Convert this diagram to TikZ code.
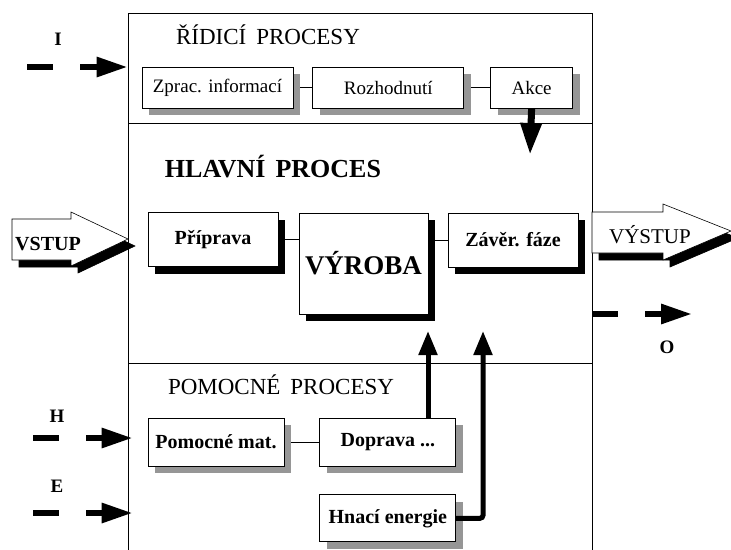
\documentclass[tikz,border=0pt]{standalone}
\usepackage{fontspec}
\setmainfont{Liberation Serif}
\usepackage{tikz}
\usetikzlibrary{positioning, arrows.meta, shadows, backgrounds}
\definecolor{shadowgray}{RGB}{150,150,150}

\tikzset{
  section/.style={draw, line width=0.8pt, minimum width=464pt, inner sep=0pt},
  title/.style={anchor=base, font=\fontsize{23}{25}\selectfont},
  lbl/.style={anchor=base, font=\bfseries\fontsize{19}{21}\selectfont},
  procbox/.style={draw, fill=white, line width=0.8pt, inner sep=0pt},
  greybox/.style={procbox, font=\fontsize{19}{21}\selectfont,
    drop shadow={shadow xshift=7pt, shadow yshift=-7pt, fill=shadowgray, opacity=1}},
  blackbox/.style={procbox, font=\bfseries\fontsize{20}{22}\selectfont,
    drop shadow={shadow xshift=7pt, shadow yshift=-7pt, fill=black, opacity=1}},
  boldtext/.style={font=\bfseries\fontsize{20}{22}\selectfont},
  link/.style={line width=0.8pt},
  inflow/.style={line width=6pt, dash pattern=on 26pt off 27pt,
    -{Triangle[length=31pt, width=19pt]}},
  bigflow/.style={line width=7pt, -{Triangle[length=32pt, width=20pt]}},
  upflow/.style={line width=5pt, -{Triangle[length=24pt, width=18pt]}}
}

\begin{document}
\begin{tikzpicture}[x=1pt, y=-1pt]
  \useasboundingbox (0,0) rectangle (731,549);

  % the three parts of the process
  \node[section, minimum height=110pt] (ridici) at (360,68) {};
  \node[section, minimum height=240pt] (hlavni) at (360,243) {};
  \node[section, minimum height=240pt] (pomocne) at (360,483) {};

  \node[title] (tRidici) at (268,44) {ŘÍDICÍ\hspace{10pt}PROCESY};
  \node[title, font=\bfseries\fontsize{26}{28}\selectfont] (tHlavni) at (273,177) {HLAVNÍ\hspace{10pt}PROCES};
  \node[title] (tPomocne) at (281,394) {POMOCNÉ\hspace{10pt}PROCESY};

  % control
  \node[greybox, minimum width=151pt, minimum height=41pt] (zprac) at (217.5,87.5) {Zprac. informací};
  \node[greybox, minimum width=151pt, minimum height=41pt, right=19pt of zprac] (rozh) {Rozhodnutí};
  \node[greybox, minimum width=82pt, minimum height=41pt, right=26pt of rozh] (akce) {Akce};

  % main
  \node[blackbox, minimum width=130pt, minimum height=54pt] (priprava) at (213,239.5) {Příprava};
  \node[blackbox, minimum width=129pt, minimum height=101pt,
        font=\bfseries\fontsize{27}{29}\selectfont] (vyroba) at (363.5,263.5) {VÝROBA};
  \node[blackbox, minimum width=130pt, minimum height=54pt] (zaver) at (513,240) {Závěr. fáze};

  % support
  \node[greybox, boldtext, minimum width=136pt, minimum height=48pt] (pommat) at (216,442) {Pomocné mat.};
  \node[greybox, boldtext, minimum width=136pt, minimum height=48pt, right=35pt of pommat] (doprava) {Doprava ...};
  \node[greybox, boldtext, minimum width=136pt, minimum height=47pt, below=28pt of doprava] (hnaci) {Hnací energie};

  \begin{scope}[on background layer]
    \draw[link] (zprac) -- (rozh);
    \draw[link] (rozh) -- (akce);
    \draw[link] (priprava.east) -- (priprava.east -| vyroba.west);
    \draw[link] (zaver.west -| vyroba.east) -- (zaver.west);
    \draw[link] (pommat) -- (doprava);
  \end{scope}

  % input and output
  \foreach \s/\c in {7/black, 0/white}
    \filldraw[fill=\c, line width=0.6pt, shift={(\s,\s)}]
      (12,219) -- (71,219) -- (71,212) -- (128,239) -- (71,266) -- (71,260) -- (12,260) -- cycle;
  \node[anchor=base, font=\bfseries\fontsize{20}{22}\selectfont] (vstup) at (48,250) {VSTUP};

  \foreach \s/\c in {7/black, 0/white}
    \filldraw[fill=\c, line width=0.6pt, shift={(\s,\s)}]
      (592,212) -- (663,212) -- (663,204) -- (731,231) -- (663,260) -- (663,253) -- (592,253) -- cycle;
  \node[anchor=base, font=\fontsize{21}{23}\selectfont] (vystup) at (650,243) {VÝSTUP};

  % flows
  \coordinate (iIn) at (27,67);
  \coordinate (hIn) at (33,438);
  \coordinate (eIn) at (33,513);
  \coordinate (oOut) at (692,314);
  \coordinate (akceOut) at (530,155);
  \coordinate (vyrIn) at (428,331);
  \coordinate (zavIn) at (483,331);

  \draw[inflow] (iIn) -- (iIn -| ridici.west);
  \draw[inflow, shorten >=-5pt] (hIn) -- (hIn -| pomocne.west);
  \draw[inflow, shorten >=-5pt] (eIn) -- (eIn -| pomocne.west);
  \draw[inflow] (oOut -| hlavni.east) -- (oOut);
  \draw[bigflow] (akce.south) -- (akceOut);
  \draw[upflow] (vyrIn |- doprava.north) -- (vyrIn);
  \draw[upflow, rounded corners=3pt] (hnaci.east) -| (zavIn);

  \node[lbl] (lI) at (58,45) {I};
  \node[lbl] (lH) at (57,422) {H};
  \node[lbl] (lE) at (57,492) {E};
  \node[lbl] (lO) at (667,353) {O};
\end{tikzpicture}
\end{document}
